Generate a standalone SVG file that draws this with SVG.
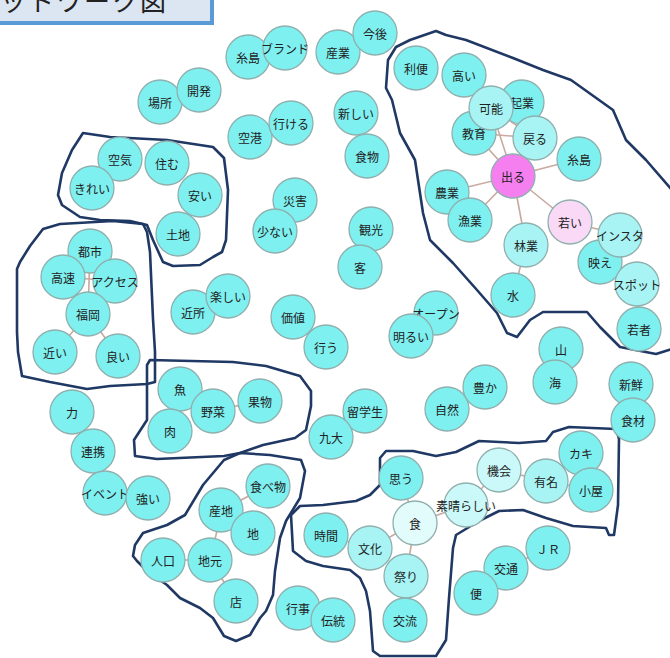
<svg xmlns="http://www.w3.org/2000/svg" width="670" height="658" viewBox="0 0 670 658">
<style>
.n circle{fill:#7ef0f0;stroke:#8fb0ae;stroke-width:1.3}
.l circle{fill:#a8f4f4}
.vl circle{fill:#cbf8f8}
.xl circle{fill:#e2fbfb}
.pk circle{fill:#f67ff0}
.lp circle{fill:#f9d9f6}
.n text{font-family:"Noto Sans CJK JP","Noto Sans",sans-serif;font-size:12px;fill:#222;text-anchor:middle;dominant-baseline:central}
.e line{stroke:#c9a9a0;stroke-width:1.6}
.blob{fill:none;stroke:#1f3864;stroke-width:2.6;stroke-linejoin:round}
</style>
<rect width="670" height="658" fill="#ffffff"/>
<g id="title">
<rect x="-6" y="-6" width="218" height="29" fill="#dce6f2" stroke="#5b9bd5" stroke-width="4"/>
<text x="168" y="11" text-anchor="end" font-family="Noto Sans CJK JP,sans-serif" font-size="26" letter-spacing="2" fill="#222">ネットワーク図</text>
</g>
<g id="blobs">
<path class="blob" d="M436,31 L410,40 L396,47 L388,60 L386,88 L392,100 L400,133 L415,160 L423,213 L430,240 L453,263 L477,290 L497,313 L507,333 L517,337 L530,320 L543,312 L587,312 L600,327 L620,347 L656,354 L672,349 L672,190 L646,160 L626,140 L613,110 L571,80 L543,70 L513,58 L466,40 L446,35 Z"/>
<path class="blob" d="M83,133 L110,137 L167,140 L213,147 L224,158 L228,190 L226,240 L222,252 L213,257 L200,265 L173,266 L163,262 L153,240 L147,225 L130,221 L100,220 L80,217 L62,205 L58,195 L62,173 L72,150 Z"/>
<path class="blob" d="M60,224 L113,221 L143,224 L147,232 L150,252 L153,319 L155,352 L155,382 L147,384 L110,386 L87,389 L50,382 L22,376 L18,352 L17,332 L17,302 L17,269 L20,262 L30,246 L43,229 Z"/>
<path class="blob" d="M150,360 L233,362 L266,366 L300,376 L311,391 L311,406 L306,430 L295,438 L263,445 L240,453 L224,456 L157,459 L135,456 L134,440 L147,420 L147,365 Z"/>
<path class="blob" d="M224,460 L240,453 L270,455 L301,460 L305,471 L300,498 L286,521 L280,538 L275,571 L273,595 L266,611 L260,618 L250,635 L236,641 L224,636 L213,618 L200,608 L180,598 L167,585 L147,571 L137,561 L133,556 L135,545 L143,533 L167,525 L185,515 L197,495 L203,485 Z"/>
<path class="blob" d="M291,515 L300,506 L323,505 L356,501 L370,495 L380,485 L380,458 L386,451 L413,451 L436,456 L456,452 L479,441 L519,443 L546,441 L553,432 L569,427 L616,429 L619,439 L618,505 L614,535 L609,535 L606,528 L573,526 L546,518 L523,510 L499,511 L479,521 L456,535 L453,548 L449,598 L446,640 L436,656 L380,656 L373,651 L370,611 L366,591 L360,578 L350,570 L323,566 L306,561 L293,551 Z"/>
</g>
<g id="connectors" class="e">
<line x1="513" y1="176" x2="474" y2="133"/><line x1="513" y1="176" x2="491" y2="108"/><line x1="513" y1="176" x2="535" y2="138"/><line x1="513" y1="176" x2="579" y2="159"/><line x1="513" y1="176" x2="447" y2="192"/><line x1="513" y1="176" x2="470" y2="220"/><line x1="513" y1="176" x2="526" y2="245"/><line x1="513" y1="176" x2="570" y2="222"/>
<line x1="474" y1="133" x2="535" y2="138"/><line x1="491" y1="108" x2="535" y2="138"/><line x1="491" y1="108" x2="464" y2="75"/><line x1="491" y1="108" x2="522" y2="102"/><line x1="491" y1="108" x2="474" y2="133"/>
<line x1="570" y1="222" x2="620" y2="235"/><line x1="620" y1="235" x2="600" y2="262"/><line x1="600" y1="262" x2="637" y2="284"/><line x1="637" y1="284" x2="639" y2="329"/><line x1="526" y1="245" x2="513" y2="295"/>
<line x1="90" y1="251" x2="88" y2="314"/><line x1="63" y1="277" x2="115" y2="281"/><line x1="88" y1="314" x2="55" y2="352"/><line x1="88" y1="314" x2="118" y2="356"/>
<line x1="415" y1="523" x2="401" y2="478"/><line x1="415" y1="523" x2="466" y2="505"/><line x1="415" y1="523" x2="370" y2="548"/><line x1="415" y1="523" x2="406" y2="576"/><line x1="406" y1="576" x2="405" y2="620"/><line x1="370" y1="548" x2="326" y2="535"/><line x1="466" y1="505" x2="499" y2="470"/><line x1="499" y1="470" x2="546" y2="481"/><line x1="546" y1="481" x2="581" y2="453"/><line x1="546" y1="481" x2="591" y2="490"/>
<line x1="222" y1="510" x2="210" y2="560"/><line x1="163" y1="560" x2="210" y2="560"/><line x1="210" y1="560" x2="236" y2="601"/><line x1="222" y1="510" x2="253" y2="533"/><line x1="222" y1="510" x2="268" y2="486"/>
<line x1="180" y1="389" x2="213" y2="411"/><line x1="180" y1="389" x2="170" y2="431"/><line x1="213" y1="411" x2="260" y2="401"/>
<line x1="506" y1="568" x2="548" y2="548"/><line x1="506" y1="568" x2="476" y2="593"/>
</g>
<g id="nodes">
<g id="n-itoshima1" class="n"><circle cx="248" cy="57" r="22"/><text x="248" y="57">糸島</text></g>
<g id="n-brand" class="n"><circle cx="285" cy="48" r="22"/><text x="285" y="48">ブランド</text></g>
<g id="n-sangyo" class="n"><circle cx="338" cy="52" r="22"/><text x="338" y="52">産業</text></g>
<g id="n-kongo" class="n"><circle cx="375" cy="33" r="22"/><text x="375" y="33">今後</text></g>
<g id="n-basho" class="n"><circle cx="160" cy="102" r="22"/><text x="160" y="102">場所</text></g>
<g id="n-kaihatsu" class="n"><circle cx="199" cy="90" r="22"/><text x="199" y="90">開発</text></g>
<g id="n-kuko" class="n"><circle cx="250" cy="137" r="22"/><text x="250" y="137">空港</text></g>
<g id="n-ikeru" class="n"><circle cx="291" cy="123" r="22"/><text x="291" y="123">行ける</text></g>
<g id="n-atarashii" class="n"><circle cx="356" cy="113" r="22"/><text x="356" y="113">新しい</text></g>
<g id="n-shokumotsu" class="n"><circle cx="367" cy="156" r="22"/><text x="367" y="156">食物</text></g>
<g id="n-kuki" class="n"><circle cx="120" cy="159" r="22"/><text x="120" y="159">空気</text></g>
<g id="n-sumu" class="n"><circle cx="167" cy="163" r="22"/><text x="167" y="163">住む</text></g>
<g id="n-kirei" class="n"><circle cx="92" cy="188" r="22"/><text x="92" y="188">きれい</text></g>
<g id="n-yasui" class="n"><circle cx="200" cy="195" r="22"/><text x="200" y="195">安い</text></g>
<g id="n-tochi" class="n"><circle cx="178" cy="234" r="22"/><text x="178" y="234">土地</text></g>
<g id="n-saigai" class="n"><circle cx="295" cy="200" r="22"/><text x="295" y="200">災害</text></g>
<g id="n-sukunai" class="n"><circle cx="275" cy="231" r="22"/><text x="275" y="231">少ない</text></g>
<g id="n-kanko" class="n"><circle cx="371" cy="229" r="22"/><text x="371" y="229">観光</text></g>
<g id="n-kyaku" class="n"><circle cx="360" cy="267" r="22"/><text x="360" y="267">客</text></g>
<g id="n-toshi" class="n"><circle cx="90" cy="251" r="22"/><text x="90" y="251">都市</text></g>
<g id="n-kosoku" class="n"><circle cx="63" cy="277" r="22"/><text x="63" y="277">高速</text></g>
<g id="n-access" class="n"><circle cx="115" cy="281" r="22"/><text x="115" y="281">アクセス</text></g>
<g id="n-fukuoka" class="n"><circle cx="88" cy="314" r="22"/><text x="88" y="314">福岡</text></g>
<g id="n-chikai" class="n"><circle cx="55" cy="352" r="22"/><text x="55" y="352">近い</text></g>
<g id="n-yoi" class="n"><circle cx="118" cy="356" r="22"/><text x="118" y="356">良い</text></g>
<g id="n-kinjo" class="n"><circle cx="193" cy="312" r="22"/><text x="193" y="312">近所</text></g>
<g id="n-tanoshii" class="n"><circle cx="228" cy="296" r="22"/><text x="228" y="296">楽しい</text></g>
<g id="n-kachi" class="n"><circle cx="293" cy="317" r="22"/><text x="293" y="317">価値</text></g>
<g id="n-okonau" class="n"><circle cx="326" cy="347" r="22"/><text x="326" y="347">行う</text></g>
<g id="n-open" class="n"><circle cx="436" cy="313" r="22"/><text x="436" y="313">オープン</text></g>
<g id="n-akarui" class="n"><circle cx="411" cy="336" r="22"/><text x="411" y="336">明るい</text></g>
<g id="n-chikara" class="n"><circle cx="72" cy="412" r="22"/><text x="72" y="412">力</text></g>
<g id="n-renkei" class="n"><circle cx="93" cy="451" r="22"/><text x="93" y="451">連携</text></g>
<g id="n-event" class="n"><circle cx="105" cy="493" r="22"/><text x="105" y="493">イベント</text></g>
<g id="n-tsuyoi" class="n"><circle cx="148" cy="498" r="22"/><text x="148" y="498">強い</text></g>
<g id="n-sakana" class="n"><circle cx="180" cy="389" r="22"/><text x="180" y="389">魚</text></g>
<g id="n-yasai" class="n"><circle cx="213" cy="411" r="22"/><text x="213" y="411">野菜</text></g>
<g id="n-niku" class="n"><circle cx="170" cy="431" r="22"/><text x="170" y="431">肉</text></g>
<g id="n-kudamono" class="n"><circle cx="260" cy="401" r="22"/><text x="260" y="401">果物</text></g>
<g id="n-ryugakusei" class="n"><circle cx="365" cy="411" r="22"/><text x="365" y="411">留学生</text></g>
<g id="n-kyudai" class="n"><circle cx="331" cy="437" r="22"/><text x="331" y="437">九大</text></g>
<g id="n-shizen" class="n"><circle cx="447" cy="409" r="22"/><text x="447" y="409">自然</text></g>
<g id="n-yutaka" class="n"><circle cx="485" cy="387" r="22"/><text x="485" y="387">豊か</text></g>
<g id="n-yama" class="n"><circle cx="561" cy="349" r="22"/><text x="561" y="349">山</text></g>
<g id="n-umi" class="n"><circle cx="555" cy="382" r="22"/><text x="555" y="382">海</text></g>
<g id="n-shinsen" class="n"><circle cx="631" cy="384" r="22"/><text x="631" y="384">新鮮</text></g>
<g id="n-shokuzai" class="n"><circle cx="633" cy="420" r="22"/><text x="633" y="420">食材</text></g>
<g id="n-riben" class="n"><circle cx="416" cy="68" r="22"/><text x="416" y="68">利便</text></g>
<g id="n-takai" class="n"><circle cx="464" cy="75" r="22"/><text x="464" y="75">高い</text></g>
<g id="n-kigyo" class="n"><circle cx="522" cy="102" r="22"/><text x="522" y="102">起業</text></g>
<g id="n-kyoiku" class="n"><circle cx="474" cy="133" r="22"/><text x="474" y="133">教育</text></g>
<g id="n-kano" class="n l"><circle cx="491" cy="108" r="22"/><text x="491" y="108">可能</text></g>
<g id="n-modoru" class="n l"><circle cx="535" cy="138" r="22"/><text x="535" y="138">戻る</text></g>
<g id="n-itoshima2" class="n"><circle cx="579" cy="159" r="22"/><text x="579" y="159">糸島</text></g>
<g id="n-noggyo" class="n"><circle cx="447" cy="192" r="22"/><text x="447" y="192">農業</text></g>
<g id="n-gyogyo" class="n"><circle cx="470" cy="220" r="22"/><text x="470" y="220">漁業</text></g>
<g id="n-deru" class="n pk"><circle cx="513" cy="176" r="22"/><text x="513" y="176">出る</text></g>
<g id="n-wakai" class="n lp"><circle cx="570" cy="222" r="22"/><text x="570" y="222">若い</text></g>
<g id="n-ringyo" class="n l"><circle cx="526" cy="245" r="22"/><text x="526" y="245">林業</text></g>
<g id="n-mizu" class="n"><circle cx="513" cy="295" r="22"/><text x="513" y="295">水</text></g>
<g id="n-bae" class="n"><circle cx="600" cy="262" r="22"/><text x="600" y="262">映え</text></g>
<g id="n-insta" class="n l"><circle cx="620" cy="235" r="22"/><text x="620" y="235">インスタ</text></g>
<g id="n-spot" class="n l"><circle cx="637" cy="284" r="22"/><text x="637" y="284">スポット</text></g>
<g id="n-wakamono" class="n"><circle cx="639" cy="329" r="22"/><text x="639" y="329">若者</text></g>
<g id="n-tabemono" class="n"><circle cx="268" cy="486" r="22"/><text x="268" y="486">食べ物</text></g>
<g id="n-sanchi" class="n"><circle cx="221" cy="510" r="22"/><text x="221" y="510">産地</text></g>
<g id="n-chi" class="n"><circle cx="253" cy="533" r="22"/><text x="253" y="533">地</text></g>
<g id="n-jinko" class="n"><circle cx="163" cy="560" r="22"/><text x="163" y="560">人口</text></g>
<g id="n-jimoto" class="n"><circle cx="210" cy="560" r="22"/><text x="210" y="560">地元</text></g>
<g id="n-mise" class="n"><circle cx="236" cy="601" r="22"/><text x="236" y="601">店</text></g>
<g id="n-omou" class="n"><circle cx="401" cy="478" r="22"/><text x="401" y="478">思う</text></g>
<g id="n-kikai" class="n vl"><circle cx="499" cy="470" r="22"/><text x="499" y="470">機会</text></g>
<g id="n-subarashii" class="n vl"><circle cx="466" cy="505" r="22"/><text x="466" y="505">素晴らしい</text></g>
<g id="n-kaki" class="n"><circle cx="581" cy="453" r="22"/><text x="581" y="453">カキ</text></g>
<g id="n-yumei" class="n l"><circle cx="546" cy="481" r="22"/><text x="546" y="481">有名</text></g>
<g id="n-koya" class="n"><circle cx="591" cy="490" r="22"/><text x="591" y="490">小屋</text></g>
<g id="n-jikan" class="n"><circle cx="326" cy="535" r="22"/><text x="326" y="535">時間</text></g>
<g id="n-bunka" class="n l"><circle cx="370" cy="548" r="22"/><text x="370" y="548">文化</text></g>
<g id="n-shoku" class="n xl"><circle cx="415" cy="523" r="22"/><text x="415" y="523">食</text></g>
<g id="n-matsuri" class="n l"><circle cx="406" cy="576" r="22"/><text x="406" y="576">祭り</text></g>
<g id="n-koryu" class="n"><circle cx="405" cy="620" r="22"/><text x="405" y="620">交流</text></g>
<g id="n-gyoji" class="n"><circle cx="298" cy="608" r="22"/><text x="298" y="608">行事</text></g>
<g id="n-dento" class="n"><circle cx="333" cy="620" r="22"/><text x="333" y="620">伝統</text></g>
<g id="n-jr" class="n"><circle cx="548" cy="548" r="22"/><text x="548" y="548">ＪＲ</text></g>
<g id="n-kotsu" class="n"><circle cx="506" cy="568" r="22"/><text x="506" y="568">交通</text></g>
<g id="n-ben" class="n"><circle cx="476" cy="593" r="22"/><text x="476" y="593">便</text></g>
</g>
</svg>
